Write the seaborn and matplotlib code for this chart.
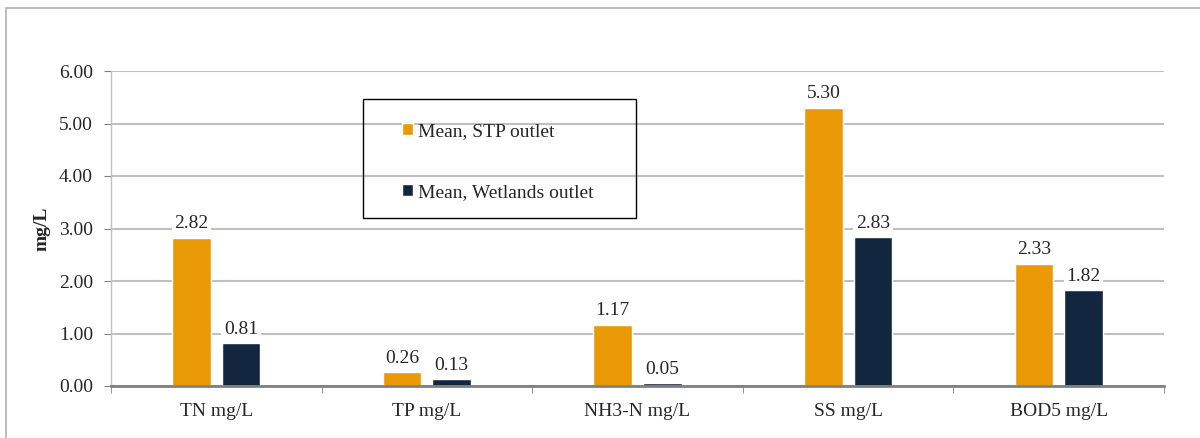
import matplotlib
matplotlib.use("Agg")
import matplotlib.pyplot as plt
from matplotlib.patches import Rectangle
import pandas as pd
import seaborn as sns

categories = ["TN mg/L", "TP mg/L", "NH3-N mg/L", "SS mg/L", "BOD5 mg/L"]
stp_outlet = [2.82, 0.26, 1.17, 5.30, 2.33]
wetlands_outlet = [0.81, 0.13, 0.05, 2.83, 1.82]
series_names = ["Mean, STP outlet", "Mean, Wetlands outlet"]
y_ticks = [0, 1, 2, 3, 4, 5, 6]

FS = 14


def main():
    df = pd.DataFrame({
        "category": categories * 2,
        "value": stp_outlet + wetlands_outlet,
        "series": [series_names[0]] * len(categories) + [series_names[1]] * len(categories),
    })

    sns.set_style("white")
    plt.rcParams["font.family"] = ["Liberation Serif", "DejaVu Serif"]
    plt.rcParams["font.size"] = FS

    fig = plt.figure(figsize=(12, 4.38), dpi=100)
    ax = fig.add_axes([111 / 1200, 1 - 386 / 438, (1164 - 111) / 1200, (386 - 71) / 438])

    sns.barplot(
        data=df, x="category", y="value", hue="series",
        palette=["#E99A06", "#13263F"], width=0.47, gap=0.22,
        saturation=1, ax=ax, legend=True,
    )

    # value labels with white boxes over the grid
    for cont in ax.containers:
        for bar in cont:
            h = bar.get_height()
            ax.annotate(f"{h:.2f}", (bar.get_x() + bar.get_width() / 2, h),
                        xytext=(0, 4), textcoords="offset points",
                        ha="center", va="bottom", fontsize=FS,
                        bbox=dict(facecolor="white", edgecolor="none", pad=2))

    ax.set_ylim(0, 6)
    ax.set_yticks(y_ticks)
    ax.set_yticklabels([f"{t:.2f}" for t in y_ticks])
    ax.set_xlim(-0.5, len(categories) - 0.5)
    ax.yaxis.grid(True, color="#c0c0c0", linewidth=1.5)
    ax.set_axisbelow(True)

    ax.set_xlabel("")
    ax.set_ylabel("mg/L", fontweight="bold", fontsize=FS, labelpad=6)

    for s in ["top", "right"]:
        ax.spines[s].set_visible(False)
    ax.spines["left"].set_color("#c0c0c0")
    ax.spines["left"].set_linewidth(1)
    ax.spines["bottom"].set_color("#808080")
    ax.spines["bottom"].set_linewidth(2)

    # tick marks between categories, labels at centers
    ax.set_xticks([i + 0.5 for i in range(-1, len(categories))], minor=True)
    ax.tick_params(axis="x", which="major", length=0, pad=12, labelsize=FS)
    ax.tick_params(axis="x", which="minor", length=5, color="#808080", direction="out", bottom=True)
    ax.tick_params(axis="y", length=5, color="#808080", direction="out", pad=8, labelsize=FS, left=True)

    # legend entries, with a separate square frame
    ax.legend(
        loc="center left", bbox_to_anchor=(0.2764, 0.712),
        frameon=False, handlelength=0.57, handleheight=0.57, handletextpad=0.25,
        labelspacing=2.25, borderpad=0, borderaxespad=0, fontsize=FS,
    )
    ax.add_patch(Rectangle((0.239, 0.533), 0.26, 0.378, transform=ax.transAxes,
                           fill=False, edgecolor="black", linewidth=1, zorder=5))

    # outer chart border
    fig.patches.append(Rectangle((6 / 1200, -0.05), 1.1, 0.05 + 1 - 8 / 438,
                                 transform=fig.transFigure, fill=False,
                                 edgecolor="#b0b0b0", linewidth=1.2))

    fig.savefig("out.png", dpi=100)


if __name__ == "__main__":
    main()
